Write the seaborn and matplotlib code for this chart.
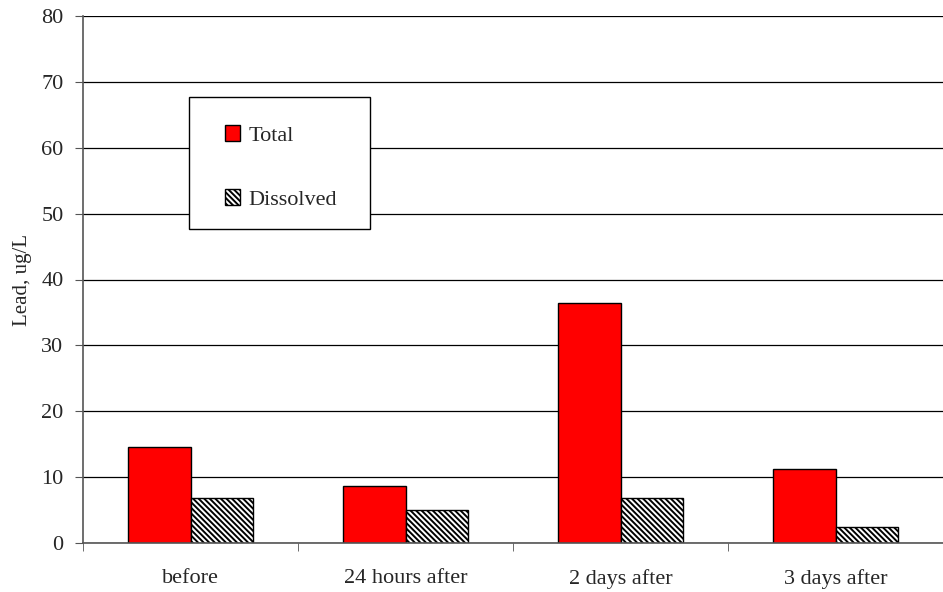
import pandas as pd
import seaborn as sns
import matplotlib.pyplot as plt
from matplotlib.patches import Rectangle

# values
sampling = ['before', '24 hours after', '2 days after', '3 days after']
total = [14.5, 8.6, 36.4, 11.3]
dissolved = [6.8, 5.0, 6.8, 2.4]

data = pd.DataFrame({
    'sampling': sampling * 2,
    'lead': total + dissolved,
    'fraction': ['Total'] * 4 + ['Dissolved'] * 4,
})

sns.set_style('white')
plt.rcParams['font.family'] = ['Liberation Serif', 'DejaVu Serif']
plt.rcParams['hatch.color'] = '#333333'
plt.rcParams['hatch.linewidth'] = 1.4

fig = plt.figure(figsize=(9.43, 5.92), dpi=100)
ax = fig.add_axes([83 / 943, 49 / 592, 860 / 943, 527 / 592])

sns.barplot(data=data, x='sampling', y='lead', hue='fraction', order=sampling,
            palette={'Total': '#ff0000', 'Dissolved': 'white'}, width=0.58,
            edgecolor='black', linewidth=1, saturation=1, legend=False, ax=ax)

for bar in ax.containers[1]:
    bar.set_hatch('\\\\\\\\\\\\')

# axes styling
ax.set_ylim(0, 80)
ax.set_xlim(-0.5, 3.5)
ax.set_yticks(range(0, 81, 10))
ax.yaxis.grid(True, color='black', linewidth=0.9)
ax.set_axisbelow(True)
for side in ['top', 'right']:
    ax.spines[side].set_visible(False)
for side in ['left', 'bottom']:
    ax.spines[side].set_color('#555555')
    ax.spines[side].set_linewidth(1.2)

ax.set_xticks([-0.5, 0.5, 1.5, 2.5, 3.5], minor=True)
ax.tick_params(axis='x', which='major', length=0, pad=19, labelsize=16)
ax.tick_params(axis='x', which='minor', length=6, color='#555555', direction='out')
ax.tick_params(axis='y', length=6, color='#555555', direction='out', labelsize=16, pad=8)
ax.tick_params(bottom=True, left=True, which='both')

ax.set_xlabel('')
ax.set_ylabel('Lead, ug/L', fontsize=15, labelpad=7)

# legend box (drawn separately so the padding can differ per side)
ax.add_patch(Rectangle((0.1233, 0.5958), 0.2104, 0.2505, transform=ax.transAxes,
                       facecolor='white', edgecolor='black', linewidth=1, zorder=4))
leg = ax.legend(ax.containers, ['Total', 'Dissolved'], loc='upper left',
                bbox_to_anchor=(0.165, 0.793), borderaxespad=0, frameon=False,
                fontsize=16, handlelength=0.7, handleheight=0.7, handletextpad=0.35,
                labelspacing=1.95, borderpad=0)
leg.set_zorder(5)

fig.savefig('out.png', dpi=100)
